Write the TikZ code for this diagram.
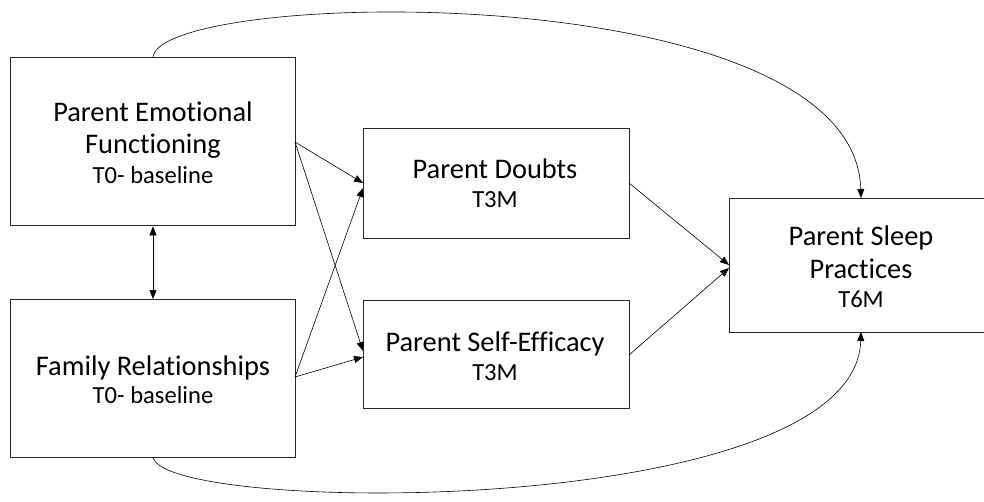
\documentclass[tikz,border=0pt]{standalone}
\usepackage{fontspec}
\setmainfont{Carlito}[Ligatures=CommonOff]
\usetikzlibrary{arrows.meta}
\begin{document}
\begin{tikzpicture}[x=1pt,y=-1pt,
  box/.style={draw=black!85,line width=1.3pt,inner sep=0pt,anchor=north west},
  title/.style={font=\fontsize{28.4}{32}\selectfont,anchor=base,inner sep=0pt},
  sub/.style={font=\fontsize{24.6}{28}\selectfont,anchor=base,inner sep=0pt},
  link/.style={line width=0.6pt,-{Triangle[length=9pt,width=7pt]}},
  both/.style={line width=0.6pt,{Triangle[length=9pt,width=7pt]}-{Triangle[length=9pt,width=7pt]}}]
\useasboundingbox (0,0) rectangle (984,501);

% boxes
\node[box,minimum width=285pt,minimum height=168pt] (pef) at (10,57) {};
\node[box,minimum width=285pt,minimum height=158pt] (fr) at (10,299) {};
\node[box,minimum width=266pt,minimum height=110pt] (pd) at (363,128) {};
\node[box,minimum width=266pt,minimum height=108pt] (pse) at (363,300) {};
\node[box,minimum width=265pt,minimum height=134pt] (psp) at (729,198) {};

% labels
\node[title] (pefT1) at (153,121) {Parent Emotional};
\node[title] (pefT2) at (153,153) {Functioning};
\node[sub] (pefS) at (153,183) {T0- baseline};
\node[title] (frT) at (153,375) {Family Relationships};
\node[sub] (frS) at (153,403) {T0- baseline};
\node[title] (pdT) at (495,178) {Parent Doubts};
\node[sub] (pdS) at (495,207) {T3M};
\node[title] (pseT) at (495,351) {Parent Self-Efficacy};
\node[sub] (pseS) at (495,380) {T3M};
\node[title] (pspT1) at (861,245) {Parent Sleep};
\node[title] (pspT2) at (861,278) {Practices};
\node[sub] (pspS) at (861,307) {T6M};

% anchor points on box edges
\coordinate (a1) at (295,142);
\coordinate (b1) at (295,377);
\coordinate (c1) at (363,183);
\coordinate (c2) at (363,188);
\coordinate (d1) at (363,351);
\coordinate (d2) at (363,357);
\coordinate (c3) at (629,183);
\coordinate (d3) at (629,355);
\coordinate (e1) at (729,265);
\coordinate (e2) at (729,268);
\coordinate (a0) at (153,57);
\coordinate (b0) at (153,457);
\coordinate (et) at (861,198);
\coordinate (eb) at (861,332);

% paths
\draw[link] (a1) -- (c1);
\draw[link] (a1) -- (d1);
\draw[link] (b1) -- (c2);
\draw[link] (b1) -- (d2);
\draw[link] (c3) -- (e1);
\draw[link] (d3) -- (e2);
\draw[both] (pef.south -| a0) -- (fr.north -| a0);
\draw[link] (a0) .. controls (162,-12) and (855,-25) .. (et);
\draw[link] (b0) .. controls (162,515) and (855,520) .. (eb);
\end{tikzpicture}
\end{document}
